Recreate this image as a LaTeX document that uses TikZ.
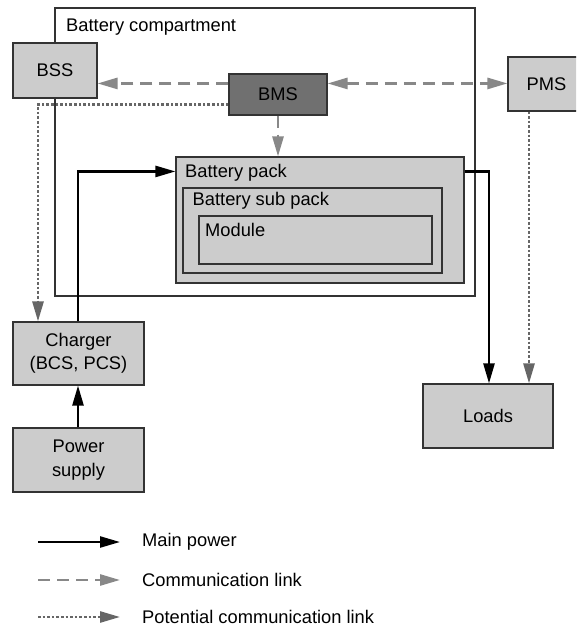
\documentclass[tikz,border=0pt]{standalone}
\usepackage{fontspec}
\setmainfont{Liberation Sans}
\usetikzlibrary{arrows.meta}
\definecolor{boxfill}{HTML}{CCCCCC}
\definecolor{boxline}{HTML}{333333}
\definecolor{bmsfill}{HTML}{707070}
\definecolor{commgray}{HTML}{888888}
\definecolor{potgray}{HTML}{666666}
\begin{document}
\begin{tikzpicture}[x=1pt,y=-1pt,
  font=\fontsize{18.3}{23.5}\selectfont,
  box/.style={draw=boxline, line width=1.1pt, fill=boxfill, inner sep=0pt, align=center},
  lbl/.style={anchor=west, inner sep=0pt},
  power/.style={draw=black, line width=2.4pt, -{Triangle[length=20pt,width=11pt]}},
  comm/.style={draw=commgray, line width=2.6pt, dash pattern=on 12pt off 7pt, -{Triangle[length=20pt,width=11pt]}},
  pot/.style={draw=potgray, line width=2.6pt, dash pattern=on 2.6pt off 2pt, -{Triangle[length=20pt,width=11pt]}},
]
\clip (0,0) rectangle (576,628);
\fill[white] (0,0) rectangle (576,628);

% battery compartment
\node[draw=boxline, line width=1.1pt, minimum width=420pt, minimum height=288pt, inner sep=0pt] (comp) at (265,152) {};
\node[lbl] (complbl) at (66,27) {Battery compartment};

% boxes
\node[box, minimum width=84pt, minimum height=55pt] (bss) at (55,70.5) {BSS};
\node[box, fill=bmsfill, minimum width=98pt, minimum height=41pt] (bms) at (278,94.5) {BMS};
\node[box, minimum width=77pt, minimum height=54pt] (pms) at (546.5,84) {PMS};

\node[box, minimum width=288pt, minimum height=126pt] (pack) at (320,220) {};
\node[lbl] (packlbl) at (185,173) {Battery pack};
\node[box, minimum width=259pt, minimum height=85pt] (sub) at (312.5,230.5) {};
\node[lbl] (sublbl) at (192.5,201) {Battery sub pack};
\node[box, minimum width=233pt, minimum height=48pt] (mod) at (315.5,240) {};
\node[lbl] (modlbl) at (205,230) {Module};

\node[box, minimum width=131pt, minimum height=63pt] (charger) at (78.5,353.5) {Charger\\(BCS, PCS)};
\node[box, minimum width=131pt, minimum height=64pt] (ps) at (78.5,460) {Power\\supply};
\node[box, minimum width=130pt, minimum height=64pt] (loads) at (488,416) {Loads};

% helper coordinates
\coordinate (bmsl) at ([yshift=-10pt]bms.north west);
\coordinate (bmsr) at ([yshift=-10pt]bms.north east);
\coordinate (bmsd) at ([yshift=11pt]bms.south west);
\coordinate (chgin) at ([xshift=-40.5pt]charger.north);
\coordinate (pmsout) at ([xshift=-17.5pt]pms.south);
\coordinate (packin) at ([yshift=-15pt]pack.north west);
\coordinate (packout) at ([yshift=-15pt]pack.north east);
\coordinate (chgout) at ([xshift=-0.5pt]charger.north);

% communication links
\draw[comm] (bmsl) -- (bmsl -| bss.east);
\draw[comm, {Triangle[length=20pt,width=11pt]}-{Triangle[length=20pt,width=11pt]}] (bmsr) -- (bmsr -| pms.west);
\draw[comm] (bms.south) -- (bms.south |- pack.north);

% potential communication links
\draw[pot] (bmsd) -| (chgin);
\draw[pot] (pmsout) -- (pmsout |- loads.north);

% main power
\draw[power] (chgout) |- (packin);
\draw[power] (packout) -| ([xshift=1pt]loads.north);
\draw[power] ([xshift=-0.5pt]ps.north) -- ([xshift=-0.5pt]charger.south);

% legend
\coordinate (la1) at (38,542);
\coordinate (lb1) at (120,542);
\coordinate (la2) at (38,580);
\coordinate (lb2) at (120,580);
\coordinate (la3) at (38,617);
\coordinate (lb3) at (120,617);
\draw[power] (la1) -- (lb1);
\draw[comm] (la2) -- (lb2);
\draw[pot] (la3) -- (lb3);
\node[lbl] (leg1) at (142,542) {Main power};
\node[lbl] (leg2) at (142,580) {Communication link};
\node[lbl] (leg3) at (142,617) {Potential communication link};
\end{tikzpicture}
\end{document}
